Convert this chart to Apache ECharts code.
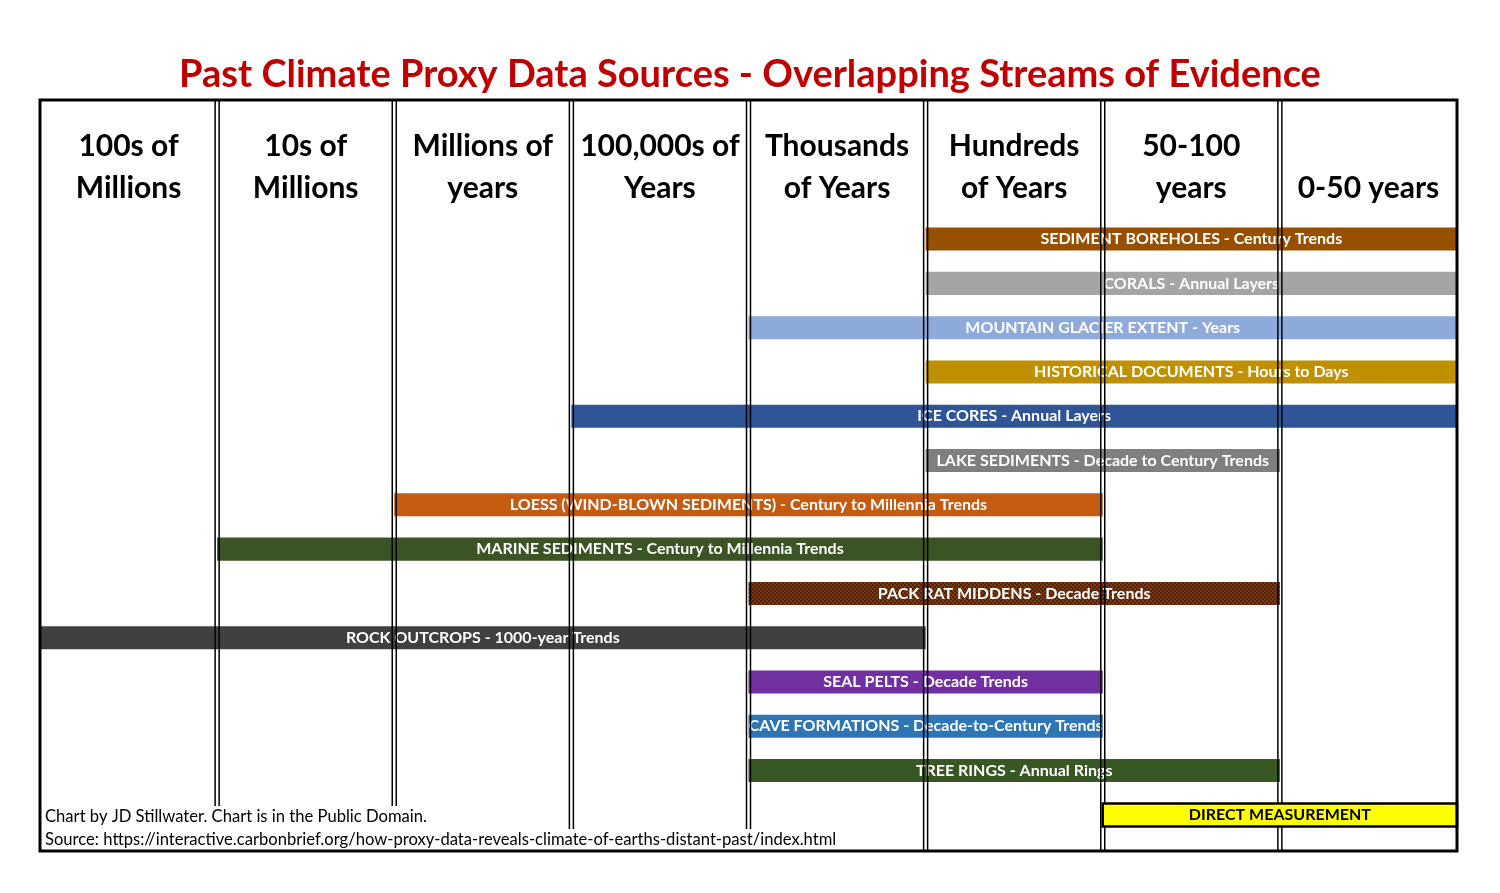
<!DOCTYPE html>
<html>
<head>
<meta charset="utf-8">
<script src="https://cdn.jsdelivr.net/npm/echarts@6/dist/echarts.min.js"></script>
<style>
  html, body { margin: 0; padding: 0; background: #fff; }
  #chart { width: 1500px; height: 893px; }
</style>
</head>
<body>
<div id="chart"></div>
<script>
// time-scale columns (left = oldest)
const columns = [
  '100s of\nMillions', '10s of\nMillions', 'Millions of\nyears', '100,000s of\nYears',
  'Thousands\nof Years', 'Hundreds\nof Years', '50-100\nyears', '\n0-50 years'
]
// proxy rows, top to bottom
const proxies = [
  'SEDIMENT BOREHOLES - Century Trends',
  'CORALS - Annual Layers',
  'MOUNTAIN GLACIER EXTENT - Years',
  'HISTORICAL DOCUMENTS - Hours to Days',
  'ICE CORES - Annual Layers',
  'LAKE SEDIMENTS - Decade to Century Trends',
  'LOESS (WIND-BLOWN SEDIMENTS) - Century to Millennia Trends',
  'MARINE SEDIMENTS - Century to Millennia Trends',
  'PACK RAT MIDDENS - Decade Trends',
  'ROCK OUTCROPS - 1000-year Trends',
  'SEAL PELTS - Decade Trends',
  'CAVE FORMATIONS - Decade-to-Century Trends',
  'TREE RINGS - Annual Rings',
  'DIRECT MEASUREMENT'
]
// column index where each stream starts / ends
const spanStart = [5, 5, 4, 5, 3, 5, 2, 1, 4, 0, 4, 4, 4, 6]
const spanEnd = [8, 8, 8, 8, 8, 7, 6, 6, 7, 5, 6, 6, 7, 8]
// column boundaries that get a divider
const dividers = [1, 2, 3, 4, 5, 6, 7]

// 颜色
const barColors = [
  '#975000', '#a5a5a5', '#8eaadb', '#bf9000', '#2f5597', '#7f7f7f', '#c55a11',
  '#3a5523', 'pattern', '#404040', '#7030a0', '#2e75b6', '#385723', '#ffff00'
]

// pack rat texture
function makePattern() {
  const c = document.createElement('canvas')
  c.width = 4
  c.height = 4
  const ctx = c.getContext('2d')
  ctx.fillStyle = '#7a3a12'
  ctx.fillRect(0, 0, 4, 4)
  ctx.fillStyle = '#52230a'
  ctx.fillRect(0, 0, 2, 2)
  ctx.fillRect(2, 2, 2, 2)
  return c
}
const packRatFill = { image: makePattern(), repeat: 'repeat' }

const FONT = 'Lato, "Noto Sans", sans-serif'
const lastRow = proxies.length - 1

const barData = proxies.map((name, i) => [spanStart[i], spanEnd[i], i, name])

function renderBar(params, api) {
  const row = api.value(2)
  const p0 = api.coord([api.value(0), row])
  const p1 = api.coord([api.value(1), row])
  const h = api.size([0, 1])[1] * 0.52
  const isDirect = row === lastRow
  let fill = barColors[row]
  if (fill === 'pattern') fill = packRatFill
  return {
    type: 'rect',
    shape: { x: p0[0], y: p0[1] - h / 2, width: p1[0] - p0[0], height: h },
    style: {
      fill: fill,
      stroke: isDirect ? '#000' : null,
      lineWidth: isDirect ? 2.5 : 0
    },
    textContent: {
      style: {
        text: api.value(3),
        fill: isDirect ? '#000' : '#fff',
        font: 'bold 16px ' + FONT
      }
    },
    textConfig: { position: 'inside' }
  }
}

const myChart = echarts.init(document.getElementById('chart'))
const option = {
  animation: false,
  backgroundColor: '#fff',
  title: [
    {
      text: 'Past Climate Proxy Data Sources - Overlapping Streams of Evidence',
      left: 'center',
      top: 51,
      textStyle: { color: '#c00000', fontSize: 38, fontWeight: 'bold', fontFamily: FONT }
    },
    {
      text: 'Chart by JD Stillwater. Chart is in the Public Domain.',
      left: 43,
      top: 806,
      padding: [2, 2, 4, 2],
      backgroundColor: '#fff',
      textStyle: { color: '#000', fontSize: 16.6, fontWeight: 'normal', fontFamily: FONT }
    },
    {
      text: 'Source: https://interactive.carbonbrief.org/how-proxy-data-reveals-climate-of-earths-distant-past/index.html',
      left: 43,
      top: 829,
      padding: [2, 2, 4, 2],
      backgroundColor: '#fff',
      textStyle: { color: '#000', fontSize: 16.6, fontWeight: 'normal', fontFamily: FONT }
    }
  ],
  grid: {
    left: 40,
    right: 43,
    top: 100,
    bottom: 42,
    z: 8,
    show: true,
    borderColor: '#000',
    borderWidth: 3,
    backgroundColor: 'transparent'
  },
  xAxis: [
    {
      type: 'category',
      position: 'top',
      data: columns,
      boundaryGap: true,
      axisLine: { show: false },
      axisTick: { show: false },
      splitLine: { show: false },
      axisLabel: {
        inside: true,
        margin: 25,
        interval: 0,
        color: '#000',
        fontSize: 30,
        fontWeight: 'bold',
        fontFamily: FONT,
        lineHeight: 42,
        verticalAlign: 'top'
      }
    },
    {
      type: 'value',
      min: 0,
      max: 8,
      show: false
    }
  ],
  yAxis: {
    type: 'value',
    inverse: true,
    min: -3.14,
    max: 13.815,
    show: false
  },
  series: [
    {
      type: 'custom',
      name: 'streams',
      xAxisIndex: 1,
      z: 2,
      renderItem: renderBar,
      data: barData.slice(0, lastRow)
    },
    {
      type: 'custom',
      name: 'dividers',
      xAxisIndex: 1,
      z: 3,
      data: dividers.map((d) => [d]),
      renderItem: function(params, api) {
        const cs = params.coordSys
        const x = api.coord([api.value(0), 0])[0]
        const ls = { stroke: '#000', lineWidth: 1.5 }
        return {
          type: 'group',
          children: [
            { type: 'line', shape: { x1: x - 2, y1: cs.y, x2: x - 2, y2: cs.y + cs.height }, style: ls },
            { type: 'line', shape: { x1: x + 2, y1: cs.y, x2: x + 2, y2: cs.y + cs.height }, style: ls }
          ]
        }
      }
    },
    {
      type: 'custom',
      name: 'direct',
      xAxisIndex: 1,
      z: 4,
      renderItem: renderBar,
      data: barData.slice(lastRow)
    }
  ]
}
myChart.setOption(option)
window.addEventListener('resize', function() {
  myChart.resize()
})
</script>
</body>
</html>
